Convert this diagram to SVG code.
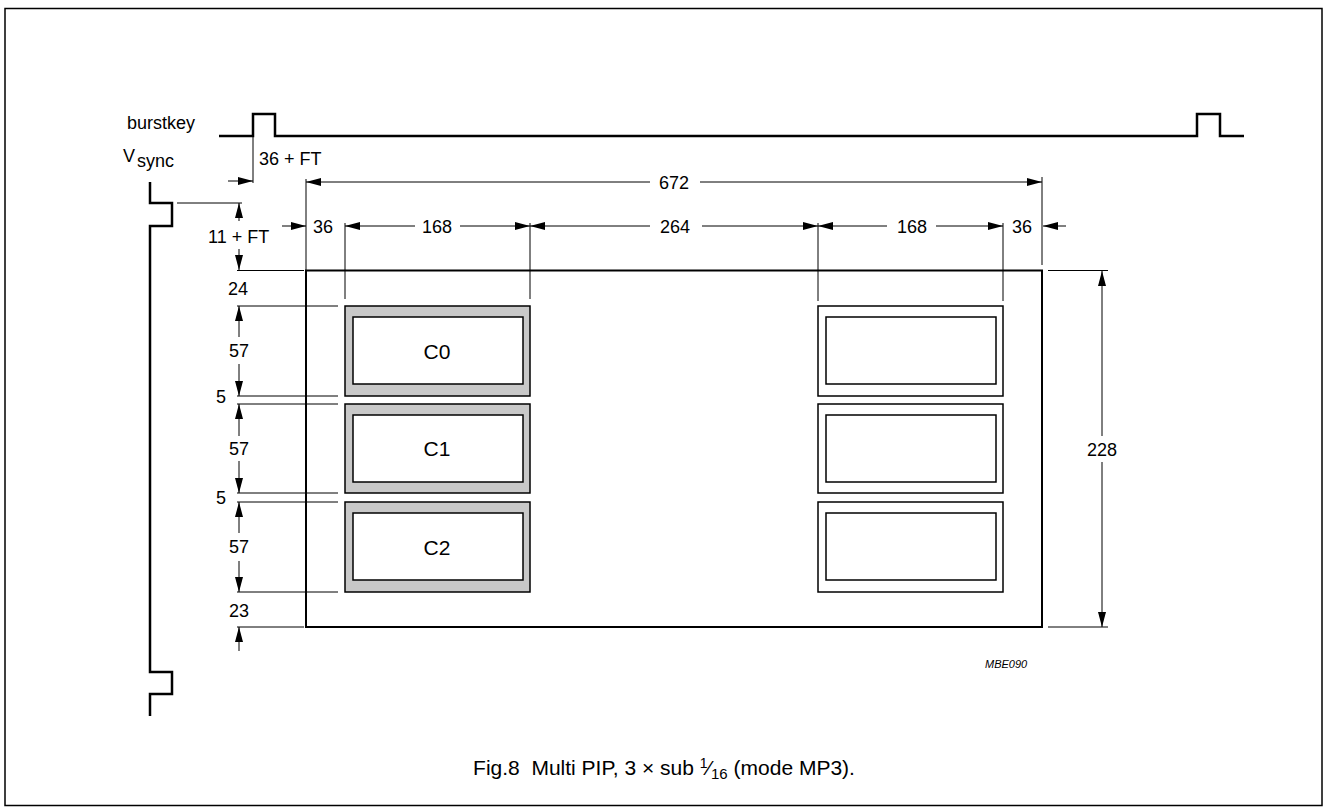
<svg xmlns="http://www.w3.org/2000/svg" width="1328" height="812" viewBox="0 0 1328 812">
<style>
text{font-family:"Liberation Sans",Arial,sans-serif;fill:#000}
.lbl{font-size:18px}
.mid{text-anchor:middle}
.dim{stroke:#000;stroke-width:1;fill:none}
.dima{stroke:#000;stroke-width:1;fill:none;marker-end:url(#ah)}
.wave{stroke:#000;stroke-width:2.5;fill:none}
.outer{fill:#c8c8c8;stroke:#000;stroke-width:1.5}
.outerw{fill:#fff;stroke:#000;stroke-width:1.5}
.inner{fill:#fff;stroke:#000;stroke-width:1.5}
</style>
<defs>
<marker id="ah" viewBox="0 0 15 8" refX="15" refY="4" markerWidth="15" markerHeight="8" markerUnits="userSpaceOnUse" orient="auto"><path d="M0,0 L15,4 L0,8 z" fill="#000"/></marker>
</defs>
<rect x="5" y="8.5" width="1317" height="797" fill="#fff" stroke="#000" stroke-width="1.5"/>

<g id="burstkey">
<text class="lbl" x="127" y="129">burstkey</text>
<path class="wave" d="M219,136 H253 V114 H275 V136 H1197 V114 H1220 V136 H1244"/>
</g>
<g id="vsync">
<text class="lbl" x="123" y="162">V<tspan x="137" y="167">sync</tspan></text>
<path class="wave" d="M150,182 V203 H172 V226 H150 V672 H172 V694 H150 V716"/>
</g>

<g id="frame">
<rect x="306" y="270.5" width="736" height="356.5" fill="none" stroke="#000" stroke-width="2"/>
</g>

<g id="C0"><rect class="outer" x="345" y="306" width="185" height="90"/><rect class="inner" x="353" y="317" width="170" height="67"/><text class="mid" x="437" y="359" font-size="21">C0</text></g>
<g id="C1"><rect class="outer" x="345" y="404" width="185" height="89"/><rect class="inner" x="353" y="415" width="170" height="67"/><text class="mid" x="437" y="456" font-size="21">C1</text></g>
<g id="C2"><rect class="outer" x="345" y="502" width="185" height="90"/><rect class="inner" x="353" y="513" width="170" height="67"/><text class="mid" x="437" y="555" font-size="21">C2</text></g>
<g id="R0"><rect class="outerw" x="818" y="306" width="185" height="90"/><rect class="inner" x="826" y="317" width="170" height="67"/></g>
<g id="R1"><rect class="outerw" x="818" y="404" width="185" height="89"/><rect class="inner" x="826" y="415" width="170" height="67"/></g>
<g id="R2"><rect class="outerw" x="818" y="502" width="185" height="90"/><rect class="inner" x="826" y="513" width="170" height="67"/></g>

<g id="connectors">
<line class="dim" x1="253" y1="137" x2="253" y2="183"/>
<line class="dima" x1="228" y1="181" x2="253" y2="181"/>
<line class="dim" x1="306" y1="179" x2="306" y2="270"/>
<line class="dim" x1="1042" y1="177" x2="1042" y2="265"/>
<line class="dima" x1="650" y1="182" x2="306" y2="182"/>
<line class="dima" x1="700" y1="182" x2="1042" y2="182"/>
<line class="dim" x1="345" y1="223" x2="345" y2="299"/>
<line class="dim" x1="530" y1="223" x2="530" y2="299"/>
<line class="dim" x1="818" y1="223" x2="818" y2="301"/>
<line class="dim" x1="1003" y1="223" x2="1003" y2="301"/>
<line class="dima" x1="282" y1="226" x2="306" y2="226"/>
<line class="dima" x1="415" y1="226" x2="345" y2="226"/>
<line class="dima" x1="460" y1="226" x2="530" y2="226"/>
<line class="dima" x1="650" y1="226" x2="530" y2="226"/>
<line class="dima" x1="702" y1="226" x2="818" y2="226"/>
<line class="dima" x1="887" y1="226" x2="818" y2="226"/>
<line class="dima" x1="936" y1="226" x2="1003" y2="226"/>
<line class="dima" x1="1066" y1="226" x2="1043" y2="226"/>
<line class="dim" x1="177" y1="203" x2="242" y2="203"/>
<line class="dim" x1="237" y1="270.5" x2="304" y2="270.5"/>
<line class="dim" x1="237" y1="306" x2="338" y2="306"/>
<line class="dim" x1="237" y1="396" x2="338" y2="396"/>
<line class="dim" x1="237" y1="404" x2="338" y2="404"/>
<line class="dim" x1="237" y1="493" x2="338" y2="493"/>
<line class="dim" x1="237" y1="502" x2="338" y2="502"/>
<line class="dim" x1="237" y1="592" x2="338" y2="592"/>
<line class="dim" x1="237" y1="627" x2="304" y2="627"/>
<line class="dima" x1="239" y1="221" x2="239" y2="203"/>
<line class="dima" x1="239" y1="249" x2="239" y2="270"/>
<line class="dima" x1="239" y1="337" x2="239" y2="306"/>
<line class="dima" x1="239" y1="364" x2="239" y2="396"/>
<line class="dima" x1="239" y1="436" x2="239" y2="404"/>
<line class="dima" x1="239" y1="461" x2="239" y2="493"/>
<line class="dima" x1="239" y1="533" x2="239" y2="502"/>
<line class="dima" x1="239" y1="561" x2="239" y2="592"/>
<line class="dima" x1="239" y1="651" x2="239" y2="627"/>
<line class="dim" x1="1048" y1="270.5" x2="1108" y2="270.5"/>
<line class="dim" x1="1048" y1="627" x2="1108" y2="627"/>
<line class="dima" x1="1102" y1="436" x2="1102" y2="271"/>
<line class="dima" x1="1102" y1="462" x2="1102" y2="627"/>
</g>

<g id="labels">
<text class="lbl" x="259" y="165">36 + FT</text>
<text class="lbl mid" x="674" y="189">672</text>
<text class="lbl" x="208" y="243">11 + FT</text>
<text class="lbl" x="313" y="233">36</text>
<text class="lbl mid" x="437" y="233">168</text>
<text class="lbl mid" x="675" y="233">264</text>
<text class="lbl mid" x="912" y="233">168</text>
<text class="lbl" x="1012" y="233">36</text>
<text class="lbl" x="228" y="295">24</text>
<text class="lbl" x="229" y="357">57</text>
<text class="lbl" x="216" y="403">5</text>
<text class="lbl" x="229" y="455">57</text>
<text class="lbl" x="216" y="504">5</text>
<text class="lbl" x="229" y="553">57</text>
<text class="lbl" x="229" y="617">23</text>
<text class="lbl mid" x="1102" y="456">228</text>
<text x="985" y="668" font-size="11" font-style="italic">MBE090</text>
</g>

<g id="caption">
<text x="664" y="775" font-size="21" text-anchor="middle">Fig.8&#160; Multi PIP, 3 × sub <tspan font-size="14" dy="-7">1</tspan><tspan dy="7">⁄</tspan><tspan font-size="15" dy="4">16</tspan><tspan dy="-4"> (mode MP3).</tspan></text>
</g>
</svg>
